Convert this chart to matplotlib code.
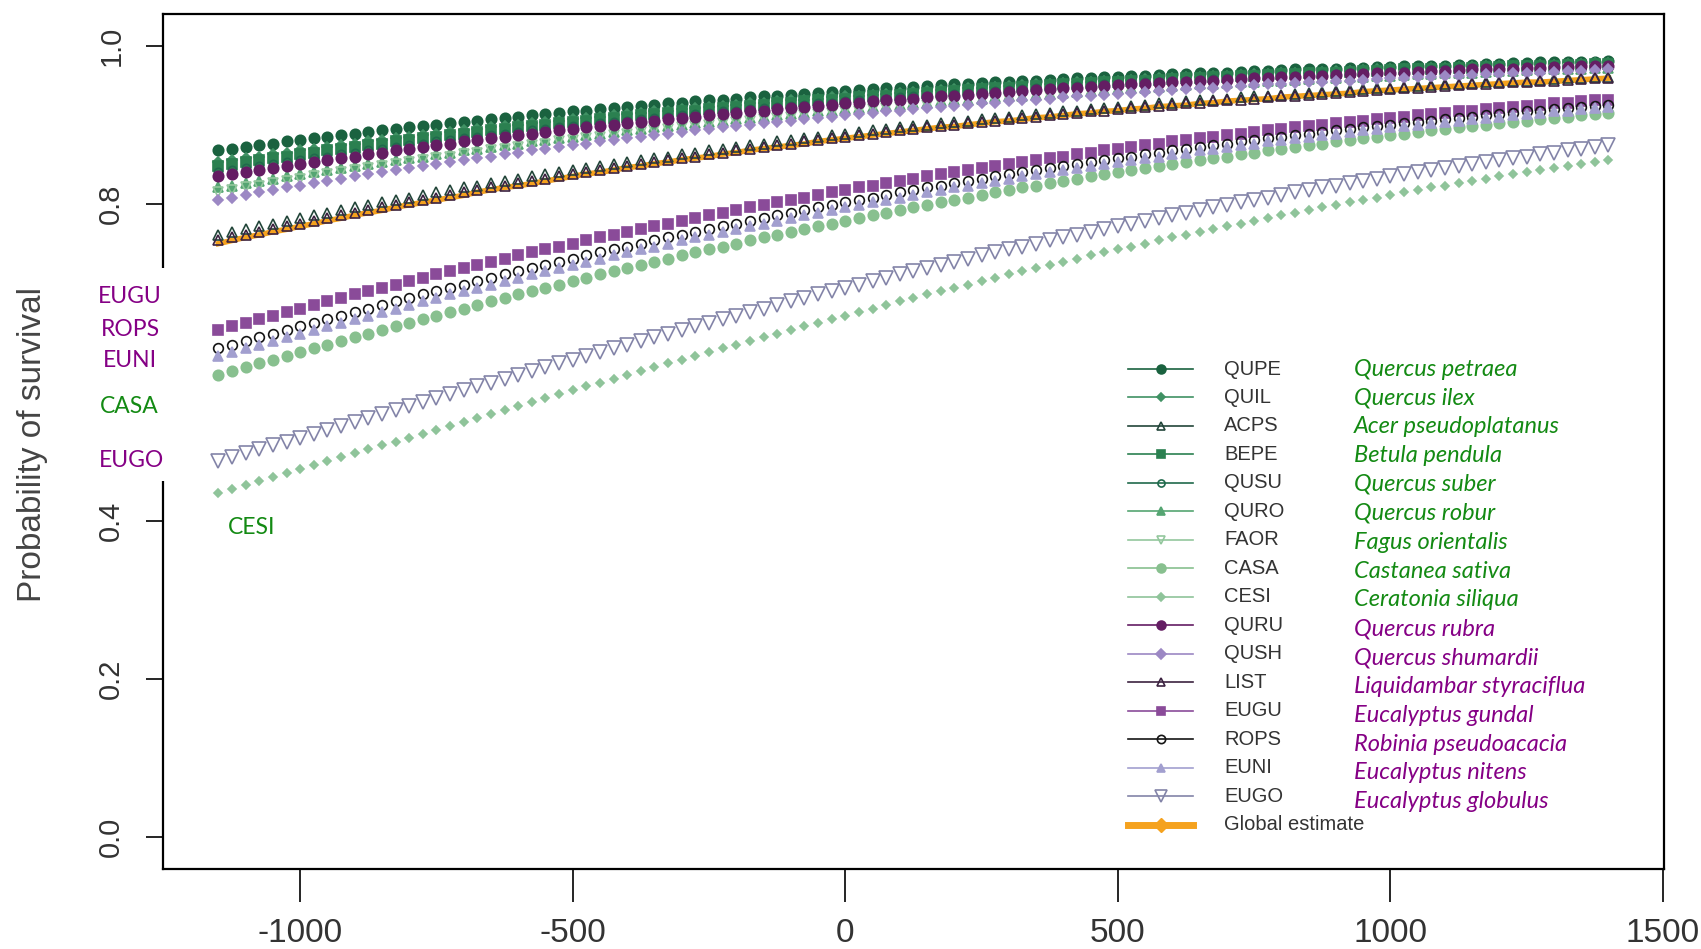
import matplotlib as mpl
mpl.use('Agg')

import numpy as np
import matplotlib.pyplot as plt
from matplotlib.patches import Rectangle

plt.rcParams['font.family'] = ['Liberation Sans', 'DejaVu Sans']
plt.rcParams['axes.unicode_minus'] = False

# predicted survival, read every 25 units from x = -1150 (values in thousandths)
x_start, x_step = -1150, 25

QUPE = [868,
        870, 872, 874, 876, 879, 881, 883, 885, 887, 889,
        891, 893, 895, 897, 898, 900, 902, 904, 905, 907,
        909, 910, 912, 914, 915, 917, 918, 920, 921, 923,
        924, 925, 927, 928, 930, 931, 932, 933, 935, 936,
        937, 938, 939, 940, 942, 943, 944, 945, 946, 947,
        948, 949, 950, 951, 952, 953, 954, 954, 955, 956,
        957, 958, 959, 959, 960, 961, 962, 962, 963, 964,
        964, 965, 966, 966, 967, 968, 968, 969, 970, 970,
        971, 971, 972, 972, 973, 973, 974, 974, 975, 975,
        976, 976, 977, 977, 978, 978, 979, 979, 979, 980,
        980, 981]
QUIL = [853, 856, 858, 860, 863, 865, 868,
        870, 872, 874, 876, 879, 881, 883, 885, 887, 889,
        891, 893, 895, 897, 898, 900, 902, 904, 905, 907,
        909, 910, 912, 914, 915, 917, 918, 920, 921, 923,
        924, 925, 927, 928, 930, 931, 932, 933, 935, 936,
        937, 938, 939, 940, 942, 943, 944, 945, 946, 947,
        948, 949, 950, 951, 952, 953, 954, 954, 955, 956,
        957, 958, 959, 959, 960, 961, 962, 962, 963, 964,
        964, 965, 966, 966, 967, 968, 968, 969, 970, 970,
        971, 971, 972, 972, 973, 973, 974, 974, 975, 975,
        976, 976, 977, 977, 978, 978]
ACPS = [761, 765, 768, 772, 775, 779, 782,
        786, 789, 792, 796, 799, 802, 805, 808, 811, 815,
        818, 821, 823, 826, 829, 832, 835, 838, 840, 843,
        846, 848, 851, 853, 856, 858, 860, 863, 865, 868,
        870, 872, 874, 876, 879, 881, 883, 885, 887, 889,
        891, 893, 895, 897, 898, 900, 902, 904, 905, 907,
        909, 910, 912, 914, 915, 917, 918, 920, 921, 923,
        924, 925, 927, 928, 930, 931, 932, 933, 935, 936,
        937, 938, 939, 940, 942, 943, 944, 945, 946, 947,
        948, 949, 950, 951, 952, 953, 954, 954, 955, 956,
        957, 958, 959, 959, 960, 961]
BEPE = [848, 851, 853, 856, 858, 860, 863, 865, 868,
        870, 872, 874, 876, 879, 881, 883, 885, 887, 889,
        891, 893, 895, 897, 898, 900, 902, 904, 905, 907,
        909, 910, 912, 914, 915, 917, 918, 920, 921, 923,
        924, 925, 927, 928, 930, 931, 932, 933, 935, 936,
        937, 938, 939, 940, 942, 943, 944, 945, 946, 947,
        948, 949, 950, 951, 952, 953, 954, 954, 955, 956,
        957, 958, 959, 959, 960, 961, 962, 962, 963, 964,
        964, 965, 966, 966, 967, 968, 968, 969, 970, 970,
        971, 971, 972, 972, 973, 973, 974, 974, 975, 975,
        976, 976, 977, 977]
QUSU = [840, 843,
        846, 848, 851, 853, 856, 858, 860, 863, 865, 868,
        870, 872, 874, 876, 879, 881, 883, 885, 887, 889,
        891, 893, 895, 897, 898, 900, 902, 904, 905, 907,
        909, 910, 912, 914, 915, 917, 918, 920, 921, 923,
        924, 925, 927, 928, 930, 931, 932, 933, 935, 936,
        937, 938, 939, 940, 942, 943, 944, 945, 946, 947,
        948, 949, 950, 951, 952, 953, 954, 954, 955, 956,
        957, 958, 959, 959, 960, 961, 962, 962, 963, 964,
        964, 965, 966, 966, 967, 968, 968, 969, 970, 970,
        971, 971, 972, 972, 973, 973, 974, 974, 975, 975,
        976]
QURO = [821, 823, 826, 829, 832, 835, 838, 840, 843,
        846, 848, 851, 853, 856, 858, 860, 863, 865, 868,
        870, 872, 874, 876, 879, 881, 883, 885, 887, 889,
        891, 893, 895, 897, 898, 900, 902, 904, 905, 907,
        909, 910, 912, 914, 915, 917, 918, 920, 921, 923,
        924, 925, 927, 928, 930, 931, 932, 933, 935, 936,
        937, 938, 939, 940, 942, 943, 944, 945, 946, 947,
        948, 949, 950, 951, 952, 953, 954, 954, 955, 956,
        957, 958, 959, 959, 960, 961, 962, 962, 963, 964,
        964, 965, 966, 966, 967, 968, 968, 969, 970, 970,
        971, 971, 972, 972]
FAOR = [815,
        818, 821, 823, 826, 829, 832, 835, 838, 840, 843,
        846, 848, 851, 853, 856, 858, 860, 863, 865, 868,
        870, 872, 874, 876, 879, 881, 883, 885, 887, 889,
        891, 893, 895, 897, 898, 900, 902, 904, 905, 907,
        909, 910, 912, 914, 915, 917, 918, 920, 921, 923,
        924, 925, 927, 928, 930, 931, 932, 933, 935, 936,
        937, 938, 939, 940, 942, 943, 944, 945, 946, 947,
        948, 949, 950, 951, 952, 953, 954, 954, 955, 956,
        957, 958, 959, 959, 960, 961, 962, 962, 963, 964,
        964, 965, 966, 966, 967, 968, 968, 969, 970, 970,
        971, 971]
CASA = [584, 589, 594, 599, 603, 608, 613, 618,
        622, 627, 632, 636, 641, 646, 650, 655, 659, 664,
        668, 673, 677, 681, 686, 690, 694, 698, 703, 707,
        711, 715, 719, 723, 727, 731, 735, 739, 743, 746,
        750, 754, 758, 761, 765, 768, 772, 775, 779, 782,
        786, 789, 792, 796, 799, 802, 805, 808, 811, 815,
        818, 821, 823, 826, 829, 832, 835, 838, 840, 843,
        846, 848, 851, 853, 856, 858, 860, 863, 865, 868,
        870, 872, 874, 876, 879, 881, 883, 885, 887, 889,
        891, 893, 895, 897, 898, 900, 902, 904, 905, 907,
        909, 910, 912, 914, 915]
CESI = [435, 440, 445, 450, 455, 460, 465, 470,
        475, 480, 485, 490, 495, 500, 505, 510, 515, 520,
        525, 530, 535, 540, 545, 550, 555, 560, 565, 570,
        574, 579, 584, 589, 594, 599, 603, 608, 613, 618,
        622, 627, 632, 636, 641, 646, 650, 655, 659, 664,
        668, 673, 677, 681, 686, 690, 694, 698, 703, 707,
        711, 715, 719, 723, 727, 731, 735, 739, 743, 746,
        750, 754, 758, 761, 765, 768, 772, 775, 779, 782,
        786, 789, 792, 796, 799, 802, 805, 808, 811, 815,
        818, 821, 823, 826, 829, 832, 835, 838, 840, 843,
        846, 848, 851, 853, 856]
QURU = [835, 838, 840, 843,
        846, 848, 851, 853, 856, 858, 860, 863, 865, 868,
        870, 872, 874, 876, 879, 881, 883, 885, 887, 889,
        891, 893, 895, 897, 898, 900, 902, 904, 905, 907,
        909, 910, 912, 914, 915, 917, 918, 920, 921, 923,
        924, 925, 927, 928, 930, 931, 932, 933, 935, 936,
        937, 938, 939, 940, 942, 943, 944, 945, 946, 947,
        948, 949, 950, 951, 952, 953, 954, 954, 955, 956,
        957, 958, 959, 959, 960, 961, 962, 962, 963, 964,
        964, 965, 966, 966, 967, 968, 968, 969, 970, 970,
        971, 971, 972, 972, 973, 973, 974, 974, 975]
QUSH = [805, 808, 811, 815,
        818, 821, 823, 826, 829, 832, 835, 838, 840, 843,
        846, 848, 851, 853, 856, 858, 860, 863, 865, 868,
        870, 872, 874, 876, 879, 881, 883, 885, 887, 889,
        891, 893, 895, 897, 898, 900, 902, 904, 905, 907,
        909, 910, 912, 914, 915, 917, 918, 920, 921, 923,
        924, 925, 927, 928, 930, 931, 932, 933, 935, 936,
        937, 938, 939, 940, 942, 943, 944, 945, 946, 947,
        948, 949, 950, 951, 952, 953, 954, 954, 955, 956,
        957, 958, 959, 959, 960, 961, 962, 962, 963, 964,
        964, 965, 966, 966, 967, 968, 968, 969, 970]
LIST = [754, 758, 761, 765, 768, 772, 775, 779, 782,
        786, 789, 792, 796, 799, 802, 805, 808, 811, 815,
        818, 821, 823, 826, 829, 832, 835, 838, 840, 843,
        846, 848, 851, 853, 856, 858, 860, 863, 865, 868,
        870, 872, 874, 876, 879, 881, 883, 885, 887, 889,
        891, 893, 895, 897, 898, 900, 902, 904, 905, 907,
        909, 910, 912, 914, 915, 917, 918, 920, 921, 923,
        924, 925, 927, 928, 930, 931, 932, 933, 935, 936,
        937, 938, 939, 940, 942, 943, 944, 945, 946, 947,
        948, 949, 950, 951, 952, 953, 954, 954, 955, 956,
        957, 958, 959, 959]
EUGU = [641, 646, 650, 655, 659, 664,
        668, 673, 677, 681, 686, 690, 694, 698, 703, 707,
        711, 715, 719, 723, 727, 731, 735, 739, 743, 746,
        750, 754, 758, 761, 765, 768, 772, 775, 779, 782,
        786, 789, 792, 796, 799, 802, 805, 808, 811, 815,
        818, 821, 823, 826, 829, 832, 835, 838, 840, 843,
        846, 848, 851, 853, 856, 858, 860, 863, 865, 868,
        870, 872, 874, 876, 879, 881, 883, 885, 887, 889,
        891, 893, 895, 897, 898, 900, 902, 904, 905, 907,
        909, 910, 912, 914, 915, 917, 918, 920, 921, 923,
        924, 925, 927, 928, 930, 931, 932]
ROPS = [618,
        622, 627, 632, 636, 641, 646, 650, 655, 659, 664,
        668, 673, 677, 681, 686, 690, 694, 698, 703, 707,
        711, 715, 719, 723, 727, 731, 735, 739, 743, 746,
        750, 754, 758, 761, 765, 768, 772, 775, 779, 782,
        786, 789, 792, 796, 799, 802, 805, 808, 811, 815,
        818, 821, 823, 826, 829, 832, 835, 838, 840, 843,
        846, 848, 851, 853, 856, 858, 860, 863, 865, 868,
        870, 872, 874, 876, 879, 881, 883, 885, 887, 889,
        891, 893, 895, 897, 898, 900, 902, 904, 905, 907,
        909, 910, 912, 914, 915, 917, 918, 920, 921, 923,
        924, 925]
EUNI = [608, 613, 618,
        622, 627, 632, 636, 641, 646, 650, 655, 659, 664,
        668, 673, 677, 681, 686, 690, 694, 698, 703, 707,
        711, 715, 719, 723, 727, 731, 735, 739, 743, 746,
        750, 754, 758, 761, 765, 768, 772, 775, 779, 782,
        786, 789, 792, 796, 799, 802, 805, 808, 811, 815,
        818, 821, 823, 826, 829, 832, 835, 838, 840, 843,
        846, 848, 851, 853, 856, 858, 860, 863, 865, 868,
        870, 872, 874, 876, 879, 881, 883, 885, 887, 889,
        891, 893, 895, 897, 898, 900, 902, 904, 905, 907,
        909, 910, 912, 914, 915, 917, 918, 920, 921, 923]
EUGO = [475, 480, 485, 490, 495, 500, 505, 510, 515, 520,
        525, 530, 535, 540, 545, 550, 555, 560, 565, 570,
        574, 579, 584, 589, 594, 599, 603, 608, 613, 618,
        622, 627, 632, 636, 641, 646, 650, 655, 659, 664,
        668, 673, 677, 681, 686, 690, 694, 698, 703, 707,
        711, 715, 719, 723, 727, 731, 735, 739, 743, 746,
        750, 754, 758, 761, 765, 768, 772, 775, 779, 782,
        786, 789, 792, 796, 799, 802, 805, 808, 811, 815,
        818, 821, 823, 826, 829, 832, 835, 838, 840, 843,
        846, 848, 851, 853, 856, 858, 860, 863, 865, 868,
        870, 872, 874]
GLOBAL = [750, 754, 758, 761, 765, 768, 772, 775, 779, 782,
          786, 789, 792, 796, 799, 802, 805, 808, 811, 815,
          818, 821, 823, 826, 829, 832, 835, 838, 840, 843,
          846, 848, 851, 853, 856, 858, 860, 863, 865, 868,
          870, 872, 874, 876, 879, 881, 883, 885, 887, 889,
          891, 893, 895, 897, 898, 900, 902, 904, 905, 907,
          909, 910, 912, 914, 915, 917, 918, 920, 921, 923,
          924, 925, 927, 928, 930, 931, 932, 933, 935, 936,
          937, 938, 939, 940, 942, 943, 944, 945, 946, 947,
          948, 949, 950, 951, 952, 953, 954, 954, 955, 956,
          957, 958, 959]

codes = ['QUPE', 'QUIL', 'ACPS', 'BEPE', 'QUSU', 'QURO', 'FAOR', 'CASA', 'CESI',
         'QURU', 'QUSH', 'LIST', 'EUGU', 'ROPS', 'EUNI', 'EUGO']
species = ['Quercus petraea', 'Quercus ilex', 'Acer pseudoplatanus', 'Betula pendula',
           'Quercus suber', 'Quercus robur', 'Fagus orientalis', 'Castanea sativa',
           'Ceratonia siliqua', 'Quercus rubra', 'Quercus shumardii',
           'Liquidambar styraciflua', 'Eucalyptus gundal', 'Robinia pseudoacacia',
           'Eucalyptus nitens', 'Eucalyptus globulus']
values = [QUPE, QUIL, ACPS, BEPE, QUSU, QURO, FAOR, CASA, CESI,
          QURU, QUSH, LIST, EUGU, ROPS, EUNI, EUGO]
n_green = 9  # first nine species are the green group

# marker, colour, filled, size
styles = {
    'QUPE': ('o', '#1a623f', True, 7.5),
    'QUIL': ('D', '#3f9163', True, 5),
    'ACPS': ('^', '#23463a', False, 7),
    'BEPE': ('s', '#2b8050', True, 6.5),
    'QUSU': ('o', '#206a4c', False, 6),
    'QURO': ('^', '#55a572', True, 7),
    'FAOR': ('v', '#93c79d', False, 7.5),
    'CASA': ('o', '#88c08f', True, 7.5),
    'CESI': ('D', '#8fc49a', True, 4.5),
    'QURU': ('o', '#641d63', True, 7.5),
    'QUSH': ('D', '#9c88c4', True, 5.5),
    'LIST': ('^', '#3c2240', False, 7),
    'EUGU': ('s', '#8a4b99', True, 7),
    'ROPS': ('o', '#151515', False, 7),
    'EUNI': ('^', '#a29fcf', True, 7),
    'EUGO': ('v', '#8384a8', False, 9.5),
}
orange = '#f5a21e'

fig = plt.figure(figsize=(17.01, 9.49), dpi=100)
ax = fig.add_axes([0.0957, 0.0843, 0.8826, 0.9009])

g = np.array(GLOBAL) / 1000
ax.plot(x_start + x_step * np.arange(len(g)), g, color=orange, lw=4, zorder=1.8)

for code, vals in zip(codes, values):
    mk, col, filled, ms = styles[code]
    y = np.array(vals) / 1000
    x = x_start + x_step * np.arange(len(y))
    ax.plot(x, y, ls='none', marker=mk, ms=ms, mec=col,
            mfc=col if filled else 'none', mew=1.2, zorder=2)

ax.set_xlim(-1252, 1502)
ax.set_ylim(-0.04, 1.04)
ax.set_xticks([-1000, -500, 0, 500, 1000, 1500])
ax.set_yticks([0.0, 0.2, 0.4, 0.6, 0.8, 1.0])
# the 0.6 label sits under the white tag box in the reference
ax.set_yticklabels(['0.0', '0.2', '0.4', '', '0.8', '1.0'])
for s in ax.spines.values():
    s.set_linewidth(1.6)
ax.tick_params(axis='x', length=24, width=1.2, labelsize=24, pad=11,
               labelcolor='#333333')
ax.tick_params(axis='y', length=12, width=1.2, labelsize=21, pad=15,
               labelcolor='#333333', labelrotation=90)
for lab in ax.get_yticklabels():
    lab.set_va('center')

ax.set_ylabel('Probability of survival', fontsize=24, color='#444444', va='center')
ax.yaxis.set_label_coords(-0.0865, 0.496)

# legend drawn by hand: line + marker, code, species name
row0, drow = 0.5848, 0.0333
srow0, dsrow = 0.5848, 0.03375
for i, code in enumerate(codes):
    mk, col, filled, ms = styles[code]
    yy = row0 - i * drow
    ax.plot([0.643, 0.665, 0.686], [yy] * 3, transform=ax.transAxes, color=col,
            lw=1.2, marker=mk, markevery=[1], ms=ms * 0.85, mec=col,
            mfc=col if filled else 'none', mew=1.2, clip_on=False)
    ax.text(0.707, yy, code, transform=ax.transAxes, va='center', ha='left',
            fontsize=14.5, color='#333333')
    ax.text(0.7935, srow0 - i * dsrow, species[i], transform=ax.transAxes,
            va='center', ha='left', fontsize=17, style='italic',
            family=['Lato', 'DejaVu Sans'],
            color='#138a13' if i < n_green else '#850085')
yy = row0 - len(codes) * drow
ax.plot([0.643, 0.665, 0.686], [yy] * 3, transform=ax.transAxes, color=orange,
        lw=5, marker='D', markevery=[1], ms=7, mec=orange, mfc=orange,
        clip_on=False)
ax.text(0.707, yy, 'Global estimate', transform=ax.transAxes, va='center',
        ha='left', fontsize=14.5, color='#333333')

# white patch over the axis with the added species tags
fig.patches.append(Rectangle((0.047, 0.493), 0.056, 0.225, transform=fig.transFigure,
                             facecolor='white', edgecolor='none', zorder=1))
tags = [('EUGU', 0.0764, 0.688, '#850085'), ('ROPS', 0.0764, 0.653, '#850085'),
        ('EUNI', 0.0764, 0.620, '#850085'), ('CASA', 0.0758, 0.572, '#138a13'),
        ('EUGO', 0.0776, 0.515, '#850085'), ('CESI', 0.148, 0.444, '#138a13')]
for t, tx, ty, tc in tags:
    fig.text(tx, ty, t, ha='center', va='center', fontsize=16.5, color=tc,
             family=['Lato', 'DejaVu Sans'], zorder=3)

fig.savefig('out.png', dpi=100, facecolor='white')
